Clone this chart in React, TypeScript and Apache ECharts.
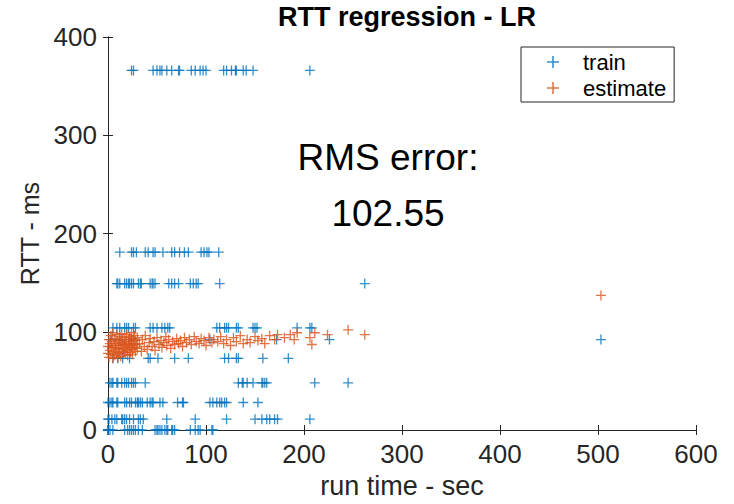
import React, { useEffect, useRef } from "react";
import * as echarts from "echarts";

// ---- data ----
const xTicks = [0, 100, 200, 300, 400, 500, 600];
const yTicks = [0, 100, 200, 300, 400];

// training samples, grouped by RTT level (ms) -> run times (sec)
const train366 = [24, 26, 46, 50, 53, 55, 60, 65, 72, 73, 85, 89, 94, 97, 100, 118, 121, 126, 130, 131, 138, 141, 148, 206];
const train181 = [12, 24, 26, 29, 38, 41, 46, 48, 56, 65, 68, 73, 78, 82, 95, 98, 101, 103, 113];
const train149 = [9, 10, 12, 17, 19, 21, 22, 24, 26, 31, 33, 34, 43, 45, 46, 48, 62, 65, 68, 72, 84, 87, 90, 92, 114, 262];
const train104 = [5, 9, 12, 17, 19, 21, 26, 28, 43, 46, 50, 55, 58, 61, 63, 111, 114, 119, 121, 123, 131, 133, 148, 150, 152, 193, 206, 208];
const train92 = [3, 12, 24, 104, 172, 226, 503];
const train73 = [5, 10, 15, 22, 41, 43, 51, 68, 82, 119, 123, 131, 133, 158, 184];
const train48 = [2, 4, 5, 9, 10, 14, 17, 19, 21, 24, 26, 28, 38, 133, 137, 138, 142, 148, 157, 158, 160, 162, 211, 245];
const train28 = [0, 2, 4, 5, 9, 10, 17, 19, 22, 24, 28, 30, 31, 33, 35, 40, 43, 45, 46, 53, 56, 71, 76, 77, 104, 107, 111, 114, 119, 116, 121, 138, 153];
const train11 = [0, 1, 4, 7, 9, 14, 15, 17, 19, 22, 26, 31, 33, 36, 60, 89, 121, 150, 157, 162, 165, 170, 173, 206];
const train0 = [0, 0, 0, 2, 5, 17, 20, 22, 24, 26, 28, 31, 35, 48, 50, 51, 53, 55, 58, 60, 61, 65, 66, 68, 84, 89, 92, 94, 106, 107];

const trainLevels = [366, 181, 149, 104, 92, 73, 48, 28, 11, 0];
const trainTimes = [train366, train181, train149, train104, train92, train73, train48, train28, train11, train0];

// estimates: run time (sec) and predicted RTT (ms)
const estTime = [
  0, 0, 1, 1, 2, 2, 3, 3, 4, 4, 5, 5, 6, 6, 7, 7, 8, 8, 9, 9, 10, 10, 11, 11, 12, 12, 13, 13, 14, 14,
  15, 15, 16, 16, 17, 17, 18, 18, 19, 19, 20, 20, 21, 21, 22, 22, 23, 23, 24, 24, 25, 25, 26, 26, 27, 27,
  28, 28, 29, 30, 30,
  32, 34, 35, 37, 38, 40, 42, 43, 45, 47, 48, 50, 52, 54, 55, 57, 59, 60, 62, 64, 66, 68, 70, 72, 74, 76,
  78, 80, 83, 85, 88, 90, 93, 95, 98, 100, 103, 106, 108,
  112, 115, 118, 121, 125, 128, 131, 135, 138, 142, 145, 150, 153, 157, 160, 165, 170, 173, 180, 186, 190, 193,
  206, 208, 211, 224, 245, 262, 503,
];
const estRtt = [
  85, 78, 92, 74, 88, 81, 96, 77, 84, 90, 73, 99, 86, 80, 93, 76, 88, 83, 97, 79, 74, 91, 86, 82, 95, 78, 89, 75, 84, 98,
  80, 92, 87, 77, 94, 83, 79, 90, 86, 97, 81, 76, 92, 88, 84, 95, 79, 90, 86, 99, 82, 77, 93, 88, 84, 96,
  80, 91, 87, 83, 94,
  88, 80, 92, 85, 96, 82, 89, 93, 85, 90, 81, 94, 87, 91, 84, 89, 95, 86, 92, 83, 90, 87, 93, 88, 91, 85,
  94, 89, 92, 87, 95, 90, 88, 93, 91, 86, 94, 89, 92,
  90, 95, 88, 92, 86, 94, 90, 96, 88, 92, 89, 95, 91, 93, 88, 96, 92, 97, 94, 97, 92, 99,
  94, 87, 99, 97, 102, 97, 137,
];

const rmsLabel = "RMS error:";
const rmsValue = "102.55";

const BLUE = "#0072BD";
const ORANGE = "#D95319";
const AXIS = "#262626";
const FONT = "'Liberation Sans', Arial, Helvetica, sans-serif";
const PLUS = "path://M4.35,0H5.65V4.35H10V5.65H5.65V10H4.35V5.65H0V4.35H4.35Z";

export default function App() {
  const ref = useRef<HTMLDivElement>(null);

  useEffect(() => {
    if (!ref.current) return;
    const chart = echarts.init(ref.current, undefined, { renderer: "svg" });

    const trainData: number[][] = [];
    trainTimes.forEach((times, i) => times.forEach((t) => trainData.push([t, trainLevels[i]])));
    const estData = estTime.map((t, i) => [t, estRtt[i]]);

    const axisCommon = {
      min: 0,
      axisLine: { show: true, lineStyle: { color: AXIS, width: 1 } },
      axisTick: { show: true, inside: true, length: 5, lineStyle: { color: AXIS } },
      splitLine: { show: false },
    };

    chart.setOption({
      animation: false,
      backgroundColor: "#ffffff",
      title: {
        text: "RTT regression - LR",
        left: 402,
        textAlign: "center",
        top: 0,
        padding: [3, 5],
        textStyle: { fontFamily: FONT, fontSize: 27, fontWeight: "bold", color: "#000" },
      },
      legend: {
        orient: "vertical",
        left: 521,
        top: 47,
        padding: [4, 8, 3, 26],
        itemGap: 4,
        itemWidth: 12,
        itemHeight: 12,
        borderColor: AXIS,
        borderWidth: 1,
        backgroundColor: "#fff",
        textStyle: { fontFamily: FONT, fontSize: 22, color: "#000", padding: [0, 0, 0, 19] },
        data: [
          { name: "train", icon: PLUS },
          { name: "estimate", icon: PLUS },
        ],
      },
      grid: { left: 108, right: 38, top: 37, bottom: 69, containLabel: false },
      xAxis: [
        {
          ...axisCommon,
          type: "value",
          max: 600,
          interval: 100,
          position: "bottom",
          name: "run time - sec",
          nameLocation: "middle",
          nameGap: 42,
          nameTextStyle: { fontFamily: FONT, fontSize: 27, color: AXIS },
          axisLabel: {
            fontFamily: FONT,
            fontSize: 26,
            color: AXIS,
            margin: 11,
            formatter: (v: number) => (xTicks.includes(v) ? String(v) : ""),
          },
        },
        {
          ...axisCommon,
          type: "value",
          max: 600,
          interval: 100,
          position: "top",
          axisLabel: { show: false },
        },
      ],
      yAxis: [
        {
          ...axisCommon,
          type: "value",
          max: 400,
          interval: 100,
          position: "left",
          name: "RTT - ms",
          nameLocation: "middle",
          nameGap: 62,
          nameTextStyle: { fontFamily: FONT, fontSize: 25, color: AXIS },
          axisLabel: {
            fontFamily: FONT,
            fontSize: 26,
            color: AXIS,
            margin: 11,
            formatter: (v: number) => (yTicks.includes(v) ? String(v) : ""),
          },
        },
        {
          ...axisCommon,
          type: "value",
          max: 400,
          interval: 100,
          position: "right",
          axisLabel: { show: false },
        },
      ],
      series: [
        {
          name: "train",
          type: "scatter",
          xAxisIndex: 0,
          yAxisIndex: 0,
          symbol: PLUS,
          symbolSize: 10,
          itemStyle: { color: BLUE },
          data: trainData,
        },
        {
          name: "estimate",
          type: "scatter",
          xAxisIndex: 0,
          yAxisIndex: 0,
          symbol: PLUS,
          symbolSize: 10,
          itemStyle: { color: ORANGE },
          data: estData,
        },
      ],
      graphic: [
        {
          type: "text",
          x: 388,
          y: 157,
          style: {
            text: rmsLabel,
            fontFamily: FONT,
            fontSize: 37,
            fill: "#000",
            textAlign: "center",
            textVerticalAlign: "middle",
          },
        },
        {
          type: "text",
          x: 388,
          y: 213,
          style: {
            text: rmsValue,
            fontFamily: FONT,
            fontSize: 37,
            fill: "#000",
            textAlign: "center",
            textVerticalAlign: "middle",
          },
        },
      ],
    });

    return () => chart.dispose();
  }, []);

  return <div ref={ref} style={{ width: 734, height: 504, position: "absolute", left: 0, top: 0 }} />;
}
